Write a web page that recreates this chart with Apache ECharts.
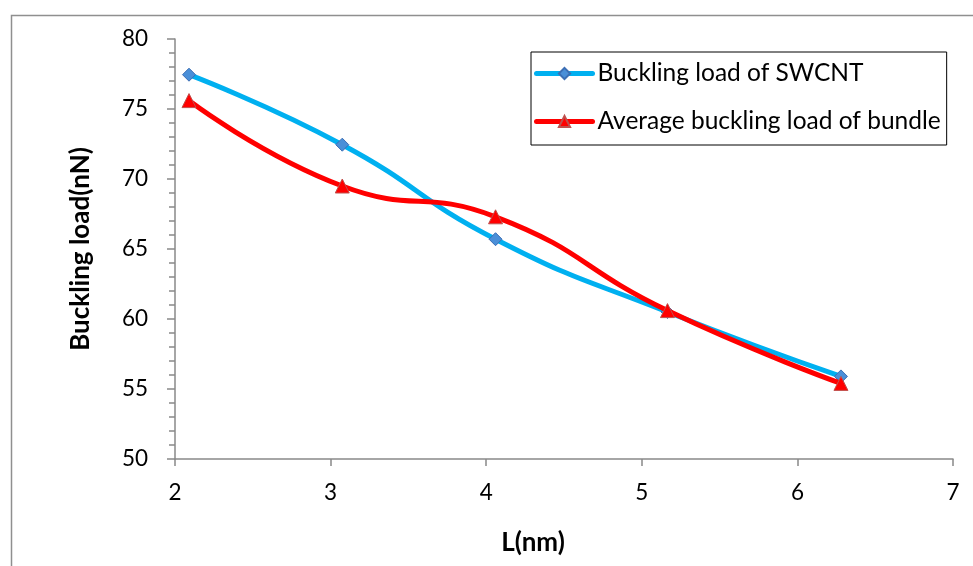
<!DOCTYPE html>
<html>
<head>
<meta charset="utf-8">
<script src="https://cdn.jsdelivr.net/npm/echarts@6/dist/echarts.min.js"></script>
<style>
  html, body { margin: 0; padding: 0; background: #ffffff; }
  #chart { width: 973px; height: 566px; }
</style>
</head>
<body>
<div id="chart"></div>
<script>
// Tube length L (nm)
const lengths = [2.09, 3.075, 4.06, 5.165, 6.28];
// Buckling load of a single SWCNT (nN)
const swcntLoad = [77.45, 72.45, 65.7, 60.5, 55.9];
// Average buckling load of the bundle (nN)
const bundleLoad = [75.6, 69.5, 67.3, 60.6, 55.4];

const seriesNames = ['Buckling load of SWCNT', 'Average buckling load of bundle'];
const xTicks = { min: 2, max: 7, step: 1 };
const yTicks = { min: 50, max: 80, step: 5 };

const FONT = 'Lato';
const AXIS_GRAY = '#898989';

const pairs = (ys) => lengths.map((x, i) => [x, ys[i]]);

const chart = echarts.init(document.getElementById('chart'), null, { renderer: 'canvas' });

chart.setOption({
  animation: false,
  backgroundColor: '#ffffff',
  textStyle: { fontFamily: FONT },
  graphic: [{
    type: 'rect',
    left: 9, top: 13,
    shape: { width: 1000, height: 600 },
    style: { fill: 'none', stroke: '#8f8f8f', lineWidth: 1.5 },
    silent: true
  }],
  grid: { left: 175, right: 20, top: 39, bottom: 107, containLabel: false },
  legend: {
    orient: 'vertical',
    left: 531, top: 52,
    padding: [9, 6, 11, 3],
    itemGap: 23,
    itemWidth: 56, itemHeight: 14,
    borderColor: '#000000', borderWidth: 1,
    backgroundColor: '#ffffff',
    lineStyle: { width: 5, cap: 'round' },
    textStyle: { fontFamily: FONT, fontSize: 24.5, color: '#000000' },
    data: seriesNames
  },
  xAxis: {
    type: 'value',
    min: xTicks.min, max: xTicks.max, interval: xTicks.step,
    name: 'L(nm)',
    nameLocation: 'middle',
    nameGap: 71,
    nameTextStyle: { fontFamily: FONT, fontSize: 26, fontWeight: 'bold', color: '#000000', padding: [0, 62, 0, 0] },
    axisLine: { show: true, onZero: false, lineStyle: { color: AXIS_GRAY, width: 1.5 } },
    axisTick: { show: true, inside: false, length: 7, lineStyle: { color: AXIS_GRAY, width: 1.5 } },
    axisLabel: { margin: 22, fontFamily: FONT, fontSize: 22.5, color: '#000000' },
    splitLine: { show: false }
  },
  yAxis: {
    type: 'value',
    min: yTicks.min, max: yTicks.max, interval: yTicks.step,
    name: 'Buckling load(nN)',
    nameLocation: 'middle',
    nameGap: 81,
    nameTextStyle: { fontFamily: FONT, fontSize: 26, fontWeight: 'bold', color: '#000000' },
    axisLine: { show: true, onZero: false, lineStyle: { color: AXIS_GRAY, width: 1.5 } },
    axisTick: { show: true, inside: false, length: 8, lineStyle: { color: AXIS_GRAY, width: 1.5 } },
    minorTick: { show: true, splitNumber: 5, length: 6, lineStyle: { color: AXIS_GRAY, width: 1.5 } },
    axisLabel: { margin: 27, fontFamily: FONT, fontSize: 22.5, color: '#000000' },
    splitLine: { show: false }
  },
  series: [
    {
      name: seriesNames[0],
      type: 'line',
      smooth: 0.5,
      data: pairs(swcntLoad),
      symbol: 'diamond',
      symbolSize: 13,
      lineStyle: { color: '#00B0F0', width: 5 },
      itemStyle: { color: '#4A8FD8', borderColor: '#3C6EB4', borderWidth: 1 },
      z: 2
    },
    {
      name: seriesNames[1],
      type: 'line',
      smooth: 0.5,
      data: pairs(bundleLoad),
      symbol: 'triangle',
      symbolSize: 14,
      lineStyle: { color: '#FF0000', width: 5 },
      itemStyle: { color: '#FF0000', borderColor: '#C0504D', borderWidth: 1 },
      z: 3
    }
  ]
});
</script>
</body>
</html>
